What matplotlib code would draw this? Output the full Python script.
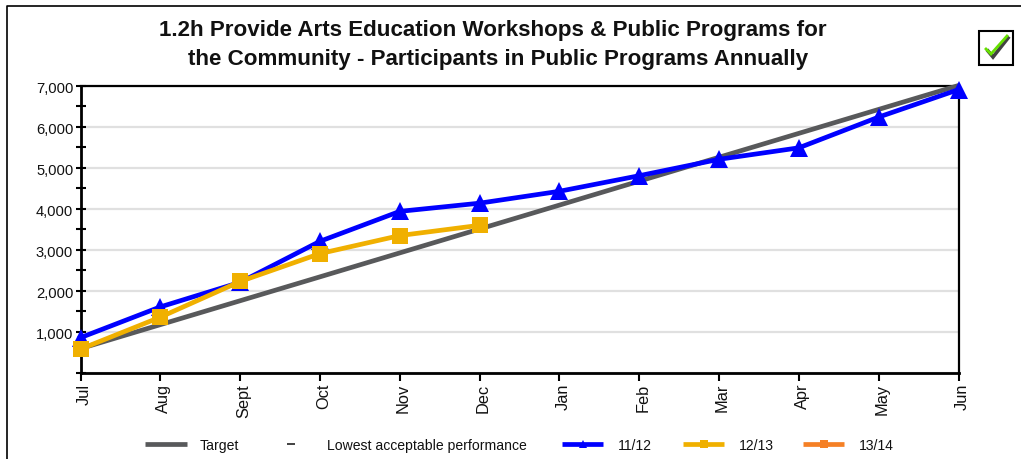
import matplotlib
matplotlib.use("Agg")
import matplotlib.pyplot as plt
from matplotlib.lines import Line2D
from matplotlib.patches import Rectangle
from matplotlib.transforms import ScaledTranslation

plt.rcParams['font.family'] = ['Liberation Sans', 'DejaVu Sans']

months = ['Jul', 'Aug', 'Sept', 'Oct', 'Nov', 'Dec', 'Jan', 'Feb', 'Mar', 'Apr', 'May', 'Jun']
target = [583, 1167, 1750, 2333, 2917, 3500, 4083, 4667, 5250, 5833, 6417, 7000]
fy1112 = [850, 1600, 2200, 3200, 3930, 4130, 4420, 4800, 5200, 5480, 6230, 6900]
fy1213 = [570, 1350, 2220, 2900, 3340, 3590]
fy1314 = []
major_ticks = [0, 1000, 2000, 3000, 4000, 5000, 6000, 7000]
major_labels = ['', '1,000', '2,000', '3,000', '4,000', '5,000', '6,000', '7,000']
minor_ticks = [500, 1500, 2500, 3500, 4500, 5500, 6500]
title_lines = ["1.2h Provide Arts Education Workshops & Public Programs for",
               "the Community - Participants in Public Programs Annually"]

GREY, BLUE, GOLD, ORANGE = '#58595b', '#0000ff', '#f0b000', '#f58025'
W, H = 1021, 460
fig = plt.figure(figsize=(W / 100, H / 100), dpi=100, facecolor='white')
ax = fig.add_axes([80.5 / W, 1 - 373.5 / H, (958.5 - 80.5) / W, (373.5 - 86.5) / H])
ax.set_xlim(0, 11)
ax.set_ylim(0, 7000)

ax.plot(months, target, color=GREY, lw=3.4, clip_on=False, zorder=3, solid_capstyle='butt')
ax.plot(months, fy1112, color=BLUE, lw=3.4, marker='^', ms=12.5, mew=0, clip_on=False, zorder=4)
ax.plot(months[:len(fy1213)], fy1213, color=GOLD, lw=3.4, marker='s', ms=11, mew=0, clip_on=False, zorder=5)

ax.set_yticks(major_ticks, major_labels, fontsize=10.6, color='#111111')
ax.set_yticks(minor_ticks, minor=True)
ax.set_xticks(range(12), months, rotation=90, fontsize=11.8, color='#111111')
ax.tick_params(axis='y', which='both', direction='inout', length=6.5, width=1.5, pad=2)
ax.tick_params(axis='x', direction='out', length=6, width=1.5, pad=1.5)
shift = ScaledTranslation(3.5 / 100, 0, fig.dpi_scale_trans)
for lab in ax.get_xticklabels():
    lab.set_transform(lab.get_transform() + shift)
shift_y = ScaledTranslation(0, -1 / 100, fig.dpi_scale_trans)
for lab in ax.get_yticklabels():
    lab.set_transform(lab.get_transform() + shift_y)
ax.set_axisbelow(True)
ax.grid(axis='y', color='#e0e0e0', lw=1.6)
ax.spines['left'].set_linewidth(2)
ax.spines['bottom'].set_linewidth(2)
ax.spines['top'].set_linewidth(1.6)
ax.spines['right'].set_linewidth(1.6)

fig.text(493 / W, 1 - 30.5 / H, title_lines[0], ha='center', va='center', fontsize=16.15,
         fontweight='bold', color='#111111')
fig.text(498 / W, 1 - 59 / H, title_lines[1], ha='center', va='center', fontsize=16.15,
         fontweight='bold', color='#111111')


def px_line(x0, x1, y, **kw):
    fig.add_artist(Line2D([x0 / W, x1 / W], [1 - y / H, 1 - y / H], transform=fig.transFigure,
                          solid_capstyle='butt', **kw))


# outer frame
fig.add_artist(Line2D([6.5 / W, 6.5 / W, 1], [0, 1 - 6.5 / H, 1 - 6.5 / H], transform=fig.transFigure,
                      color='black', lw=1.2))

# legend
legend = [('Target', 145, 187, 200, GREY, None),
          ('Lowest acceptable performance', 287, 295, 327, '#333333', None),
          ('11/12', 562, 603, 618, BLUE, '^'),
          ('12/13', 683, 724, 739, GOLD, 's'),
          ('13/14', 803, 844, 859, ORANGE, 's')]
for name, x0, x1, xt, col, mk in legend:
    lw = 1.3 if x1 - x0 < 20 else 3.4
    px_line(x0, x1, 445, color=col, lw=lw)
    if mk:
        fig.add_artist(Line2D([(x0 + x1) / 2 / W], [1 - 445 / H], transform=fig.transFigure, color=col,
                              marker=mk, ms=6, mew=0, ls='none'))
    fig.text(xt / W, 1 - 446 / H, name, ha='left', va='center', fontsize=10.1, color='#111111')

# check badge
fig.add_artist(Rectangle((979 / W, 1 - 66 / H), 34 / W, 34 / H, transform=fig.transFigure,
                         facecolor='white', edgecolor='black', lw=1.5))
fig.add_artist(Line2D([988 / W, 993 / W, 1008 / W], [1 - 52 / H, 1 - 58 / H, 1 - 39 / H],
                      transform=fig.transFigure, color='#222222', lw=2.6, solid_joinstyle='miter', alpha=0.85))
fig.add_artist(Line2D([986 / W, 991 / W, 1007 / W], [1 - 50 / H, 1 - 55 / H, 1 - 37 / H],
                      transform=fig.transFigure, color='#66e000', lw=2.0, solid_joinstyle='miter'))

fig.savefig('out.png', dpi=100)
